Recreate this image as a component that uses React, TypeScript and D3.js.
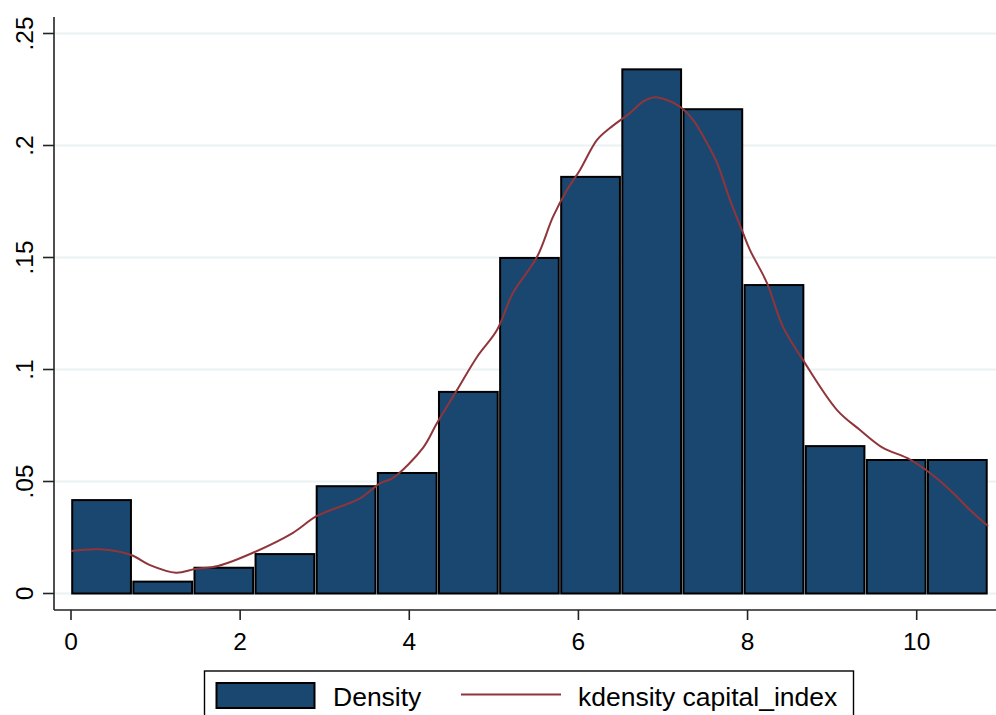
import React from "react";
import * as d3 from "d3";

const binEdges = [0, 0.723, 1.446, 2.168, 2.891, 3.614, 4.337, 5.06, 5.782, 6.505, 7.228, 7.951, 8.674, 9.396, 10.119, 10.842];
const densityValues = [0.0417, 0.0053, 0.0115, 0.0176, 0.0479, 0.0538, 0.09, 0.1498, 0.186, 0.234, 0.2162, 0.1377, 0.0658, 0.0596, 0.0596];

const kdeX = [0.0, 0.343, 0.709, 0.934, 1.242, 1.466, 1.738, 2.152, 2.625, 2.909, 3.417, 3.654, 3.808, 4.162, 4.328, 4.564, 4.801, 5.037, 5.226, 5.51, 5.699, 5.865, 6.019, 6.22, 6.373, 6.61, 6.764, 6.906, 7.047, 7.201, 7.355, 7.52, 7.639, 7.792, 7.946, 8.029, 8.23, 8.419, 8.656, 9.058, 9.33, 9.602, 9.885, 10.157, 10.394, 10.63, 10.843];
const kdeY = [0.019, 0.0197, 0.0172, 0.0127, 0.0093, 0.0109, 0.0123, 0.0182, 0.0271, 0.0346, 0.0425, 0.0492, 0.0516, 0.065, 0.0761, 0.0908, 0.1056, 0.1176, 0.1342, 0.1502, 0.1681, 0.1801, 0.1891, 0.2025, 0.2078, 0.2145, 0.2196, 0.2215, 0.2203, 0.2173, 0.2114, 0.2011, 0.1922, 0.1757, 0.161, 0.1533, 0.1386, 0.119, 0.1042, 0.0819, 0.073, 0.065, 0.0605, 0.0538, 0.0462, 0.0373, 0.0301];

const xTicks = [0, 2, 4, 6, 8, 10];
const yTicks = [0, 0.05, 0.1, 0.15, 0.2, 0.25];
const yTickLabels = ["0", ".05", ".1", ".15", ".2", ".25"];

const legendLabels = ["Density", "kdensity capital_index"];

const W = 996;
const H = 715;
const FONT = "'Liberation Sans', Arial, Helvetica, sans-serif";
const BAR_FILL = "#1a476f";
const LINE_COLOR = "#90353b";
const GRID = "#eaf2f3";
const AXIS = "#222222";

export default function App() {
  const x = d3.scaleLinear().domain([0, 10]).range([71, 916.7]);
  const y = d3.scaleLinear().domain([0, 0.25]).range([593.5, 33.5]);

  const plotLeft = 54;
  const plotRight = 996;
  const axisY = 610;
  const axisTop = 17;

  const line = d3
    .line<number>()
    .x((_, i) => x(kdeX[i]))
    .y((d) => y(d))
    .curve(d3.curveCatmullRom.alpha(0.5));

  const inset = 1.2;

  return (
    <svg
      width={W}
      height={H}
      viewBox={`0 0 ${W} ${H}`}
      style={{ position: "absolute", left: 0, top: 0, background: "#fff" }}
    >
      <rect x={0} y={0} width={W} height={H} fill="#ffffff" />
      {yTicks.map((t, i) => (
        <line key={"g" + i} x1={plotLeft} x2={plotRight} y1={y(t)} y2={y(t)} stroke={GRID} strokeWidth={2} />
      ))}
      {densityValues.map((v, i) => {
        const x0 = x(binEdges[i]) + inset;
        const x1 = x(binEdges[i + 1]) - inset;
        return (
          <rect
            key={"b" + i}
            x={x0}
            y={y(v)}
            width={x1 - x0}
            height={y(0) - y(v)}
            fill={BAR_FILL}
            stroke="#000000"
            strokeWidth={2}
          />
        );
      })}
      <path d={line(kdeY) || ""} fill="none" stroke={LINE_COLOR} strokeWidth={2} strokeLinejoin="round" />
      <line x1={plotLeft} x2={plotLeft} y1={axisTop} y2={axisY} stroke={AXIS} strokeWidth={1.6} />
      {yTicks.map((t, i) => (
        <g key={"yt" + i}>
          <line x1={43} x2={plotLeft} y1={y(t)} y2={y(t)} stroke={AXIS} strokeWidth={1.6} />
          <text
            transform={`translate(33, ${y(t)}) rotate(-90)`}
            textAnchor="middle"
            fontFamily={FONT}
            fontSize={24.5}
            fill="#000"
          >
            {yTickLabels[i]}
          </text>
        </g>
      ))}
      <line x1={plotLeft} x2={plotRight} y1={axisY} y2={axisY} stroke={AXIS} strokeWidth={1.6} />
      {xTicks.map((t, i) => (
        <g key={"xt" + i}>
          <line x1={x(t)} x2={x(t)} y1={axisY} y2={620} stroke={AXIS} strokeWidth={1.6} />
          <text x={x(t)} y={650} textAnchor="middle" fontFamily={FONT} fontSize={24.5} fill="#000">
            {String(t)}
          </text>
        </g>
      ))}
      <rect x={204.5} y={671} width={649} height={60} fill="#fff" stroke="#000" strokeWidth={1.4} />
      <rect x={216.5} y={683} width={98} height={25} fill={BAR_FILL} stroke="#000" strokeWidth={2} />
      <text x={333} y={706} fontFamily={FONT} fontSize={26.5} fill="#000">
        {legendLabels[0]}
      </text>
      <line x1={461} x2={561} y1={694.5} y2={694.5} stroke={LINE_COLOR} strokeWidth={2} />
      <text x={578} y={706} fontFamily={FONT} fontSize={26.5} fill="#000">
        {legendLabels[1]}
      </text>
    </svg>
  );
}
